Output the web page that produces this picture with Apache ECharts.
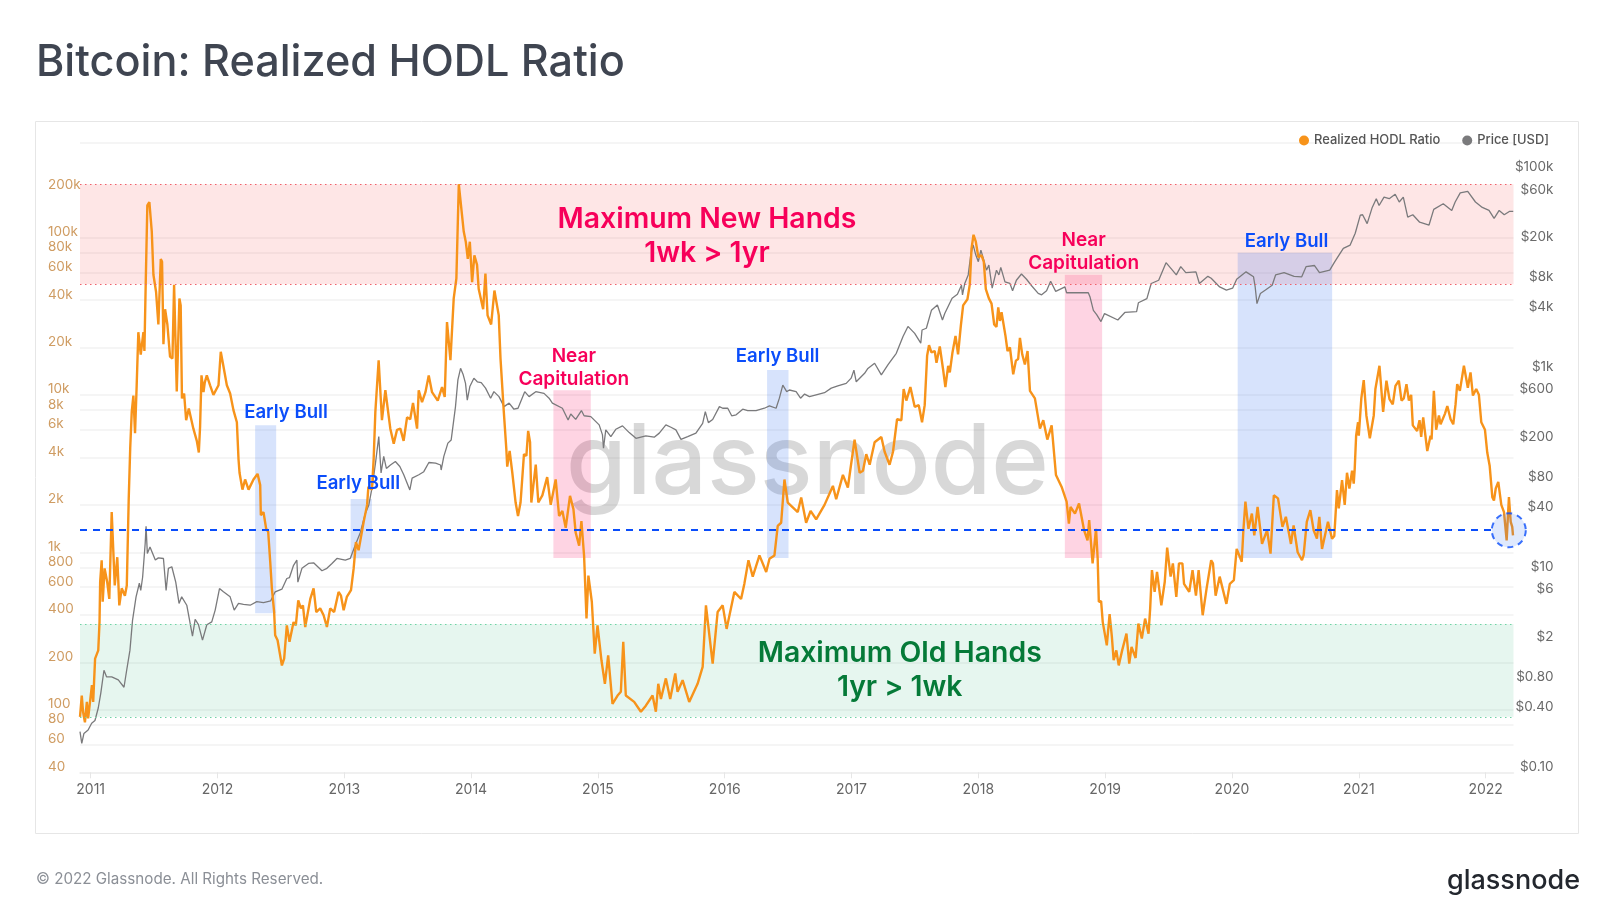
<!DOCTYPE html>
<html>
<head>
<meta charset="utf-8">
<title>Bitcoin: Realized HODL Ratio</title>
<script src="https://cdn.jsdelivr.net/npm/echarts@6/dist/echarts.min.js"></script>
<style>
  html, body { margin: 0; padding: 0; background: #fff; }
  #chart { width: 1600px; height: 922px; }
</style>
</head>
<body>
<div id="chart"></div>
<script>
// x values are decimal years
const hodlYears = [
  2010.916,2010.93,2010.94,2010.955,2010.97,2010.98,2010.995,2011.01,2011.02,2011.035,2011.06,2011.07,2011.075,2011.087,2011.095,2011.11,2011.13,2011.147,2011.166,2011.18,2011.19,2011.21,2011.226,2011.245,2011.27,2011.285,2011.30,2011.312,2011.324,2011.337,2011.35,2011.363,2011.376,2011.395,2011.416,2011.424,2011.434,2011.447,2011.463,2011.482,2011.495,2011.516,2011.534,2011.553,2011.563,2011.574,2011.587,2011.605,2011.626,2011.645,2011.658,2011.671,2011.679,2011.70,2011.71,2011.72,2011.737,2011.753,2011.774,2011.81,2011.837,2011.853,2011.863,2011.874,2011.89,2011.90,2011.916,2011.942,2011.968,2012.008,2012.026,2012.042,2012.074,2012.10,2012.126,2012.153,2012.166,
  2012.174,2012.197,2012.218,2012.245,2012.284,2012.316,2012.337,2012.342,2012.363,2012.384,2012.40,2012.416,2012.429,2012.447,2012.455,2012.474,2012.508,2012.526,2012.547,2012.568,2012.60,2012.618,2012.637,2012.658,2012.674,2012.692,2012.732,2012.758,2012.779,2012.81,2012.837,2012.863,2012.889,2012.92,2012.955,2012.974,2012.995,2013.02,2013.053,2013.074,2013.092,2013.113,2013.126,2013.153,2013.18,2013.19,2013.218,2013.232,
  2013.245,2013.271,2013.297,2013.324,2013.363,2013.39,2013.416,2013.442,2013.468,2013.495,2013.52,2013.542,2013.574,2013.587,2013.613,2013.64,2013.666,2013.692,2013.737,2013.771,2013.792,2013.81,2013.837,2013.863,2013.884,2013.903,2013.916,2013.942,2013.958,2013.974,2013.99,2014.008,2014.026,2014.047,2014.06,2014.095,2014.113,2014.13,2014.158,2014.184,2014.218,2014.232,2014.258,
  2014.278,2014.285,2014.304,2014.325,2014.351,2014.37,2014.39,2014.417,2014.436,2014.45,2014.465,2014.475,2014.51,2014.53,2014.562,2014.60,2014.628,
  2014.667,2014.694,2014.72,2014.746,2014.78,2014.807,2014.825,2014.852,2014.87,2014.891,2014.91,2014.925,2014.952,2014.975,2014.997,2015.028,2015.055,2015.081,2015.115,2015.155,2015.181,2015.20,2015.22,2015.286,2015.339,2015.378,2015.431,2015.457,2015.476,2015.497,2015.536,2015.57,2015.61,2015.628,2015.668,2015.72,2015.786,2015.826,2015.852,2015.879,2015.905,2015.944,2015.984,2016.015,2016.076,2016.129,2016.155,2016.187,2016.221,2016.274,2016.327,2016.353,2016.392,2016.418,2016.445,2016.471,2016.497,2016.576,2016.603,2016.642,2016.677,2016.721,2016.787,2016.853,2016.879,2016.932,2016.971,2017.024,2017.064,2017.09,2017.116,2017.143,2017.182,
  2017.235,2017.261,2017.30,2017.327,2017.359,2017.393,2017.411,2017.432,2017.464,2017.498,2017.53,2017.556,2017.577,2017.596,2017.611,2017.63,2017.656,2017.67,2017.696,2017.722,2017.74,2017.762,2017.775,2017.796,2017.82,2017.84,2017.862,2017.88,2017.914,2017.933,2017.946,2017.962,2017.98,2018.0,2018.025,2018.043,2018.059,2018.083,2018.104,2018.125,2018.143,2018.157,2018.17,2018.183,2018.214,2018.23,2018.249,2018.275,2018.296,2018.314,2018.328,2018.346,2018.367,2018.388,2018.407,2018.446,2018.486,2018.512,2018.544,2018.578,2018.612,2018.657,2018.696,
  2018.714,2018.727,2018.762,2018.794,2018.834,2018.861,2018.874,2018.901,2018.928,2018.941,2018.95,2018.968,2018.981,2019.013,2019.035,2019.053,2019.067,2019.088,2019.107,2019.134,2019.168,2019.19,2019.208,2019.24,2019.262,2019.289,2019.315,2019.342,2019.355,2019.369,2019.39,2019.409,2019.443,2019.47,2019.489,2019.516,2019.534,2019.561,2019.582,2019.609,2019.622,2019.663,2019.689,2019.716,2019.737,2019.769,2019.80,2019.836,2019.85,2019.871,2019.903,2019.956,2019.983,2020.015,2020.037,2020.077,2020.09,2020.106,2020.13,2020.157,2020.176,2020.202,2020.237,2020.277,2020.304,2020.33,2020.363,2020.398,2020.425,2020.465,2020.486,2020.518,2020.552,
  2020.565,2020.59,2020.618,2020.644,2020.67,2020.689,2020.71,2020.757,2020.789,2020.807,2020.828,2020.842,2020.868,2020.889,2020.907,2020.926,2020.947,2020.96,2020.968,2020.979,2020.994,2021.0,2021.02,2021.039,2021.06,2021.087,2021.118,2021.131,2021.144,2021.163,2021.192,2021.218,2021.242,2021.268,2021.289,2021.316,2021.337,2021.355,2021.376,2021.395,2021.413,2021.426,2021.46,2021.479,2021.492,2021.508,2021.54,2021.566,2021.574,2021.592,2021.61,2021.632,2021.645,2021.68,2021.698,2021.724,2021.745,2021.763,2021.776,2021.797,2021.829,2021.86,2021.881,2021.90,2021.926,2021.947,2021.966,2021.995,2022.013,2022.032,2022.053,2022.066,2022.08,2022.10,2022.124,2022.145,2022.166,2022.184,2022.198,2022.21,2022.216
];
const hodlValues = [
  90,123,97,83,112,88,112,143,112,211,238,360,650,890,485,790,650,505,1800,1760,615,930,460,590,530,615,2150,4600,7800,9900,5700,11500,25000,18000,25000,19000,50000,160000,168000,109000,58000,45000,28000,73000,70000,21000,35000,28000,17500,17000,50000,51000,10500,41000,37000,9500,10200,6900,8200,6100,5100,4300,6300,13300,10400,12000,13300,11500,10000,11500,18800,16000,11500,10200,8000,6700,3900,
  3200,2500,2900,2500,2900,3150,2670,1720,1800,1410,1350,870,590,417,297,276,191,211,343,270,360,343,495,440,460,335,505,590,417,440,398,335,440,417,560,530,428,520,575,790,1160,1030,1050,1560,2000,2600,2500,3950,
  7800,16600,6900,10700,6100,4900,6000,6100,5100,7200,7000,8900,6100,10700,9000,10400,13300,10400,9200,11200,9700,29000,16600,41000,55000,218000,218000,109000,94000,73000,94000,52000,77000,67000,47000,35000,59000,32000,28000,46000,32000,17000,7800,
  4500,3500,4400,3200,2070,1700,2070,4200,4100,5900,5000,2070,3600,2070,2300,3000,2000,
  2900,1700,1830,1430,2280,1880,1330,1100,1580,950,380,710,485,227,343,206,146,221,109,123,130,270,123,112,97,106,123,97,146,117,158,117,170,130,154,112,146,187,460,297,196,417,460,326,560,505,632,890,700,955,750,910,955,1470,1540,2900,2070,1800,2230,1540,1830,1620,2000,2640,2170,3100,2580,5200,3200,3300,4200,3600,5000,
  5400,4350,3600,4350,7000,6900,10900,9200,11200,8400,8600,6700,8600,17700,20700,18600,19000,16000,20300,14500,11200,15300,13900,18600,23700,18100,27500,37000,40500,50500,85000,104000,94000,75000,77000,70000,47000,41000,38000,28000,27000,36000,29500,33500,23700,19000,20000,13500,16500,16900,23000,18100,15600,19000,10600,9500,6100,6900,5200,6400,3100,2600,2100,
  1520,1940,1760,2040,1380,1190,1600,850,1410,910,485,490,360,256,405,290,206,238,191,238,304,196,250,213,352,283,379,304,440,770,560,750,460,650,1070,700,850,520,850,850,630,560,770,530,770,398,590,890,850,530,700,470,630,665,1050,870,1380,2100,1410,1760,1280,1940,1130,1380,980,2300,2200,1450,1680,1130,1480,1000,890,
  960,1560,1850,1380,1220,1680,1050,1560,1220,1270,2480,1900,2870,2000,3200,2540,3300,2730,3400,5500,6700,5500,9500,12400,7400,5300,7400,10900,10600,15300,7800,12300,9400,8700,11400,12300,9200,9500,11700,9200,10000,6400,5900,6900,5400,7200,4400,5500,5200,10600,6000,7400,6500,7600,8500,7000,6500,8700,11700,10600,15300,11100,13900,9900,10900,10000,6700,6000,4300,3550,2240,2130,2540,2800,2000,1800,1190,2240,1560,1450,1280
];
const priceYears = [
  2010.916,2010.93,2010.947,2010.98,2011.008,2011.034,2011.06,2011.08,2011.105,2011.126,2011.166,2011.218,2011.263,2011.284,2011.31,2011.33,2011.358,2011.384,2011.395,2011.41,2011.43,2011.437,2011.447,2011.468,2011.51,2011.534,2011.574,2011.595,2011.613,2011.64,2011.671,2011.697,2011.718,2011.758,2011.803,2011.824,2011.85,2011.882,2011.916,2011.955,2011.982,2012.016,2012.047,2012.1,2012.132,2012.166,2012.205,2012.258,2012.31,2012.363,2012.42,2012.455,2012.508,2012.547,2012.568,2012.60,2012.626,2012.634,2012.666,2012.718,2012.758,2012.824,2012.863,2012.903,2012.942,2013.008,2013.047,2013.087,2013.126,2013.166,2013.193,
  2013.22,2013.246,2013.272,2013.29,2013.311,2013.332,2013.364,2013.403,2013.438,2013.469,2013.517,2013.535,2013.588,2013.627,2013.667,2013.72,2013.759,2013.764,2013.785,2013.817,2013.843,2013.877,2013.896,2013.917,2013.938,2013.956,2013.97,2013.99,2014.022,2014.049,2014.08,2014.114,2014.154,2014.18,2014.22,2014.26,2014.30,2014.338,2014.37,
  2014.423,2014.457,2014.51,2014.575,2014.615,2014.641,2014.72,2014.765,2014.786,2014.825,2014.87,2014.891,2014.944,2015.01,2015.036,2015.044,2015.062,2015.102,2015.141,2015.194,2015.247,2015.30,2015.378,2015.444,2015.484,2015.536,2015.576,2015.615,2015.655,2015.708,2015.773,2015.826,2015.847,2015.871,2015.905,2015.958,2015.984,2016.024,2016.055,2016.09,2016.142,2016.181,2016.247,2016.313,2016.353,2016.405,2016.431,2016.458,2016.471,2016.489,2016.51,2016.563,2016.598,2016.63,2016.668,2016.721,2016.787,2016.84,2016.892,2016.958,2016.997,2017.019,2017.037,2017.103,2017.129,2017.182,
  2017.235,2017.288,2017.353,2017.406,2017.445,2017.498,2017.546,2017.556,2017.59,2017.63,2017.677,2017.717,2017.735,2017.793,2017.835,2017.867,2017.875,2017.893,2017.92,2017.94,2017.959,2017.98,2018.0,2018.02,2018.043,2018.064,2018.083,2018.109,2018.143,2018.162,2018.177,2018.21,2018.249,2018.27,2018.30,2018.34,2018.38,2018.42,2018.472,2018.499,2018.538,2018.57,2018.61,2018.683,2018.696,2018.867,2018.88,2018.907,2018.933,2018.967,
  2018.995,2019.10,2019.155,2019.248,2019.262,2019.329,2019.363,2019.422,2019.48,2019.53,2019.561,2019.596,2019.636,2019.716,2019.743,2019.81,2019.836,2019.903,2019.956,2020.005,2020.037,2020.111,2020.17,2020.183,2020.197,2020.224,2020.264,2020.317,2020.344,2020.411,2020.49,2020.55,2020.584,2020.651,2020.69,2020.771,2020.811,2020.878,2020.932,2020.972,2021.012,2021.03,2021.066,2021.106,2021.138,2021.16,2021.199,2021.24,2021.287,2021.319,2021.351,2021.386,2021.426,2021.48,2021.554,2021.591,2021.666,2021.733,2021.76,2021.80,2021.859,2021.92,2021.974,2022.027,2022.067,2022.107,2022.147,2022.187,2022.218
];
const priceValues = [
  0.255,0.195,0.245,0.265,0.31,0.33,0.44,0.62,1.05,0.9,0.9,0.84,0.71,1.05,1.67,3.3,5.7,7.8,6.6,9,19.5,29,15.5,18,13.3,14,13.8,6.6,11,11.4,8,4.9,5.7,4.7,2.3,3.4,3,2.1,3,3.2,4.2,6.9,6.4,5.7,4.2,4.9,4.8,4.7,5.1,5,5.2,6.4,6.8,8.7,8.9,11.8,13.3,8,11,12.3,12.5,10.4,11,12.3,13.8,13.3,13.8,18.8,25,39,47,
  72,124,229,99,145,110,119,129,115,95,67,88,95,102,126,124,119,106,145,197,212,457,845,1105,950,780,530,725,880,810,795,700,555,645,575,457,495,430,440,
  645,575,645,620,555,495,440,335,385,340,417,370,363,300,238,175,267,229,271,293,251,220,233,226,248,300,284,267,215,229,248,311,407,316,340,457,440,440,370,378,430,417,417,440,464,440,555,750,750,645,670,645,555,610,575,600,630,700,735,780,880,1060,810,985,1100,1240,
  950,1200,1560,2300,2900,2470,1970,2670,2780,4200,4750,3360,3900,5550,6100,7500,6000,7800,9500,15000,19000,15000,12900,16800,13400,10600,11900,7000,10600,9500,11300,8100,7800,6600,8400,9700,8600,7400,6200,6000,6600,8200,6500,7200,6300,6300,5750,4200,3800,3240,
  3900,3360,4000,4080,5000,5500,7800,8400,12600,10600,9500,11500,10000,10200,7800,9200,8800,7200,6700,7000,8600,10200,9100,7200,4900,6200,6700,7500,9500,10000,9200,9100,11500,11800,10000,10600,12900,17500,18900,24800,37700,38000,31000,45000,55000,47000,57000,55000,61000,51000,57000,36000,38000,32000,30000,43000,49000,42000,51000,63000,65000,51000,45000,42000,35000,42000,38000,41000,41000
];
const yearTicks = [2011,2012,2013,2014,2015,2016,2017,2018,2019,2020,2021,2022];
const hodlGrid = [40,60,80,100,200,400,600,800,1000,2000,4000,6000,8000,10000,20000,40000,60000,80000,100000,400000];
const hodlLabels = [40,60,80,100,200,400,600,800,1000,2000,4000,6000,8000,10000,20000,40000,60000,80000,100000,200000];
const priceLabels = [0.1,0.4,0.8,2,6,10,40,80,200,600,1000,4000,8000,20000,60000,100000];
// hodl ratio levels: [low, high]
const newHandsBand = [50500, 218000];
const oldHandsBand = [90, 350];
const currentLevel = 1380;
const currentYear = 2022.183;
const levelEndYear = 2022.045;
// highlighted windows: [start year, end year, low, high]
const earlyBull = [
  [2012.297, 2012.463, 410, 6400],
  [2013.05, 2013.218, 916, 2180],
  [2016.334, 2016.503, 920, 14400],
  [2020.045, 2020.79, 920, 80000]
];
const nearCapitulation = [
  [2014.649, 2014.944, 920, 10700],
  [2018.682, 2018.976, 920, 58000]
];

const xMin = 2010.916;
const xMax = 2022.22;
const font = 'Inter, "Noto Sans", sans-serif';

function zip(xs, ys) {
  return xs.map((x, i) => [x, ys[i]]);
}

function kLabel(v) {
  return v >= 1000 ? (v / 1000) + 'k' : String(v);
}

function priceLabel(v) {
  if (v < 1) return '$' + v.toFixed(2);
  return '$' + kLabel(v);
}

function windowArea(w, color) {
  return [
    { coord: [w[0], w[3]], itemStyle: { color: color } },
    { coord: [w[1], w[2]] }
  ];
}

function dottedLine(v, color) {
  return [
    { coord: [xMin, v], lineStyle: { color: color, type: [1.5, 3.5], width: 1.2 } },
    { coord: [xMax, v] }
  ];
}

function note(text, x, y, color, size) {
  return {
    coord: [x, y],
    symbolSize: 0,
    label: {
      show: true, position: 'inside', formatter: text, color: color,
      fontFamily: font, fontWeight: 600, fontSize: size, lineHeight: size * 1.2
    }
  };
}

const pink = '#f7005a';
const blue = '#0a4dfa';
const green = '#057a38';

const option = {
  backgroundColor: '#fff',
  animation: false,
  textStyle: { fontFamily: font },
  graphic: [
    { type: 'rect', z: -10, silent: true, shape: { x: 35.5, y: 121.5, width: 1543, height: 712 }, style: { fill: '#fff', stroke: '#e6e6e6', lineWidth: 1 } },
    { type: 'text', left: 36, top: 42, style: { text: 'Bitcoin: Realized HODL Ratio', font: '500 43.2px ' + font, fill: '#3f4551' } },
    { type: 'text', left: 36, top: 872, style: { text: '© 2022 Glassnode. All Rights Reserved.', font: '400 15.2px ' + font, fill: '#8b8f96' } },
    { type: 'text', right: 20, top: 867, style: { text: 'glassnode', font: '500 27px ' + font, fill: '#23272e' } },
    { type: 'text', z: -5, left: 566, top: 416, style: { text: 'glassnode', font: '500 98px ' + font, fill: 'rgba(110,110,110,0.27)' } }
  ],
  legend: {
    data: ['Realized HODL Ratio', 'Price [USD]'],
    right: 46, top: 129, icon: 'circle', itemWidth: 10, itemHeight: 10, itemGap: 22,
    textStyle: { color: '#555', fontSize: 12.9, fontWeight: 500, fontFamily: font }
  },
  grid: { left: 80, right: 86.5, top: 142.7, bottom: 149.7 },
  xAxis: {
    type: 'value', min: xMin, max: xMax,
    axisLine: { lineStyle: { color: '#eee', width: 1.5 } },
    axisTick: { customValues: yearTicks, length: 6, lineStyle: { color: '#e6e6e6' } },
    axisLabel: { customValues: yearTicks, color: '#666', fontSize: 14, margin: 10, fontFamily: font, letterSpacing: 0.5, formatter: v => String(v) },
    splitLine: { show: false }
  },
  yAxis: [
    {
      type: 'log', logBase: 10, min: 40, max: 400000, position: 'left',
      axisLine: { show: false },
      axisTick: { show: false, customValues: hodlGrid },
      axisLabel: {
        customValues: hodlLabels, color: '#cf9c62', fontSize: 13.5, fontFamily: font, lineHeight: 11,
        align: 'left', verticalAlign: 'bottom', margin: 32, formatter: kLabel
      },
      splitLine: { show: true, lineStyle: { color: 'rgba(60,60,60,0.07)', width: 1.5 } }
    },
    {
      type: 'log', logBase: 10, min: 0.1, max: 200000, position: 'right',
      axisLine: { show: false },
      axisTick: { show: false, customValues: priceLabels },
      axisLabel: {
        customValues: priceLabels, color: '#6a6a6a', fontSize: 13.5, fontFamily: font, lineHeight: 11,
        align: 'right', verticalAlign: 'bottom', margin: 40, formatter: priceLabel
      },
      splitLine: { show: false }
    }
  ],
  series: [
    {
      // bands, windows and notes, all placed on the hodl axis
      name: 'Zones', type: 'line', yAxisIndex: 0, data: [], silent: true, z: 1,
      markArea: {
        silent: true,
        data: [
          [{ coord: [xMin, newHandsBand[1]], itemStyle: { color: 'rgba(246,70,70,0.135)' } }, { coord: [xMax, newHandsBand[0]] }],
          [{ coord: [xMin, oldHandsBand[1]], itemStyle: { color: 'rgba(20,170,100,0.105)' } }, { coord: [xMax, oldHandsBand[0]] }]
        ]
          .concat(earlyBull.map(w => windowArea(w, 'rgba(40,105,240,0.19)')))
          .concat(nearCapitulation.map(w => windowArea(w, 'rgba(247,0,90,0.17)')))
      },
      markLine: {
        silent: true, symbol: 'none', label: { show: false },
        data: [
          dottedLine(newHandsBand[1], '#f0606a'),
          dottedLine(newHandsBand[0], '#f0606a'),
          dottedLine(oldHandsBand[1], '#6fd3a4'),
          dottedLine(oldHandsBand[0], '#6fd3a4'),
          [
            { coord: [xMin, currentLevel], lineStyle: { color: blue, type: [7, 6], width: 2 } },
            { coord: [levelEndYear, currentLevel] }
          ]
        ]
      }
    },
    {
      name: 'Price [USD]', type: 'line', yAxisIndex: 1, z: 3,
      data: zip(priceYears, priceValues), showSymbol: false,
      itemStyle: { color: '#7a7a7c' }, lineStyle: { color: '#7a7a7c', width: 1.3 }
    },
    {
      name: 'Realized HODL Ratio', type: 'line', yAxisIndex: 0, z: 4,
      data: zip(hodlYears, hodlValues), showSymbol: false,
      itemStyle: { color: '#f7931a' }, lineStyle: { color: '#f7931a', width: 2.4 }
    },
    {
      name: 'Now', type: 'scatter', yAxisIndex: 0, z: 5, silent: true,
      data: [[currentYear, currentLevel]], symbolSize: 34,
      itemStyle: { color: 'rgba(40,105,240,0.19)', borderColor: blue, borderWidth: 2, borderType: [6, 5] }
    },
    {
      name: 'Notes', type: 'line', yAxisIndex: 0, data: [], silent: true, z: 6,
      markPoint: {
        silent: true, symbol: 'circle', symbolSize: 0,
        data: [
          note('Maximum New Hands\n1wk > 1yr', 2015.86, 101000, pink, 28.4),
          note('Near\nCapitulation', 2014.81, 14900, pink, 19),
          note('Near\nCapitulation', 2018.83, 81000, pink, 19),
          note('Early Bull', 2012.54, 7700, blue, 18.6),
          note('Early Bull', 2013.11, 2730, blue, 18.6),
          note('Early Bull', 2016.417, 17600, blue, 18.6),
          note('Early Bull', 2020.43, 94000, blue, 18.6),
          note('Maximum Old Hands\n1yr > 1wk', 2017.38, 178, green, 28.4)
        ]
      }
    }
  ]
};

const chart = echarts.init(document.getElementById('chart'));
chart.setOption(option);
</script>
</body>
</html>
